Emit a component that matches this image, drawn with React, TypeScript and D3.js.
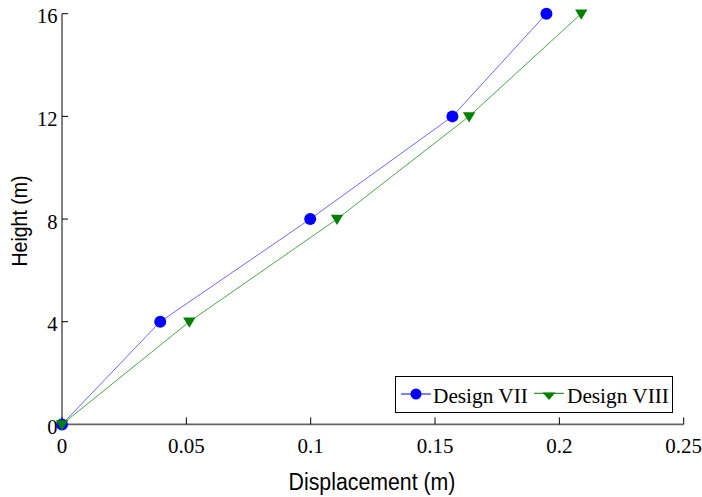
import React from "react";
import * as d3 from "d3";

const heights = [0, 4, 8, 12, 16];
const designVII = [0, 0.0395, 0.0998, 0.157, 0.1948];
const designVIII = [0, 0.0512, 0.1106, 0.1637, 0.2088];
const xTicks = [0, 0.05, 0.1, 0.15, 0.2, 0.25];
const yTicks = [0, 4, 8, 12, 16];
const seriesNames = ["Design VII", "Design VIII"];

const W = 702, H = 497;
const x = d3.scaleLinear().domain([0, 0.25]).range([62, 683.7]);
const y = d3.scaleLinear().domain([0, 16]).range([424.4, 13.7]);

export default function App() {
  const line = d3.line<[number, number]>().x(d => x(d[0])).y(d => y(d[1]));
  const p7 = designVII.map((v, i) => [v, heights[i]] as [number, number]);
  const p8 = designVIII.map((v, i) => [v, heights[i]] as [number, number]);
  const tri = (cx: number, cy: number, s = 6.2) =>
    `M${cx - s},${cy - 4.2}L${cx + s},${cy - 4.2}L${cx},${cy + 6}Z`;
  return (
    <svg width={W} height={H} style={{ position: "absolute", left: 0, top: 0, background: "#fff" }}>
      {/* axes */}
      <line x1={x(0)} x2={x(0.25)} y1={y(0)} y2={y(0)} stroke="#666" strokeWidth={1.6} />
      <line x1={x(0)} x2={x(0)} y1={y(0)} y2={y(16)} stroke="#000" strokeWidth={1} />
      {xTicks.map(t => (
        <g key={"x" + t}>
          <line x1={x(t)} x2={x(t)} y1={y(0)} y2={y(0) - 7} stroke="#000" />
          <text x={x(t)} y={y(0) + 28.3} textAnchor="middle" fontFamily="Liberation Serif" fontSize={21}>{t}</text>
        </g>
      ))}
      {yTicks.map(t => (
        <g key={"y" + t}>
          <line x1={x(0)} x2={x(0) + 6} y1={y(t)} y2={y(t)} stroke="#000" />
          <text x={x(0) - 4.5} y={y(t) + 9.7} textAnchor="end" fontFamily="Liberation Serif" fontSize={20.5}>{t}</text>
        </g>
      ))}
      <text transform="translate(372,490) scale(1,1.1)" textAnchor="middle" fontFamily="Liberation Sans" fontSize={21.3}>Displacement (m)</text>
      <text transform={`translate(27,221) rotate(-90) scale(1,1.1)`} textAnchor="middle" fontFamily="Liberation Sans" fontSize={19.5}>Height (m)</text>
      {/* series */}
      <path d={line(p7) || ""} fill="none" stroke="#6a6aff" strokeWidth={1} />
      <path d={line(p8) || ""} fill="none" stroke="#4da64d" strokeWidth={1} />
      {p7.map((p, i) => <circle key={"c" + i} cx={x(p[0])} cy={y(p[1])} r={6} fill="#0000ff" />)}
      {p8.map((p, i) => <path key={"t" + i} d={tri(x(p[0]), y(p[1]))} fill="#008000" />)}
      {/* legend */}
      <rect x={395.5} y={376.5} width={277} height={36} fill="#fff" stroke="#000" strokeWidth={1} />
      <line x1={401} x2={431} y1={394} y2={394} stroke="#0000ff" />
      <circle cx={416} cy={394} r={5.5} fill="#0000ff" />
      <text x={433} y={403} fontFamily="Liberation Serif" fontSize={21.3}>{seriesNames[0]}</text>
      <line x1={534} x2={564} y1={393.3} y2={393.3} stroke="#008000" />
      <path d={`M542.5,392.5L555.5,392.5L549,400Z`} fill="#008000" />
      <text x={567} y={403} fontFamily="Liberation Serif" fontSize={21.3}>{seriesNames[1]}</text>
    </svg>
  );
}
